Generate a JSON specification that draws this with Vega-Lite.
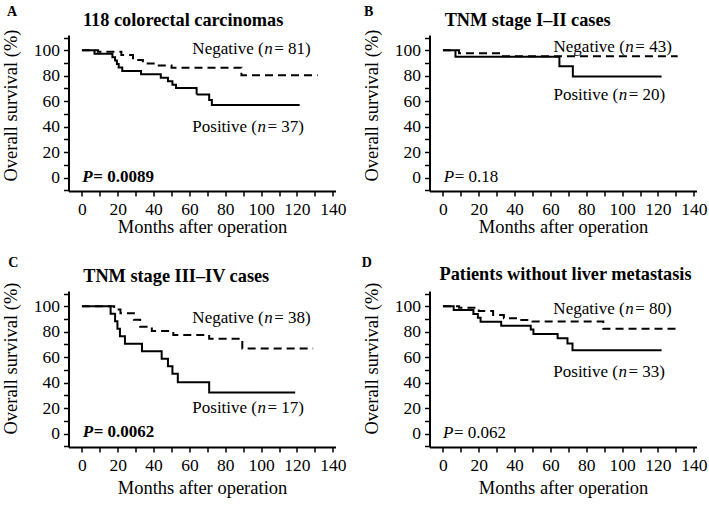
{
  "$schema": "https://vega.github.io/schema/vega-lite/v6.json",
  "background": "white",
  "padding": {"left": 1.5, "top": 5, "right": 5, "bottom": 5},
  "datasets": {
    "curves": [
      {"panel":"A","group":"Positive","month":0,"survival":100},
      {"panel":"A","group":"Positive","month":7,"survival":97.3},
      {"panel":"A","group":"Positive","month":17,"survival":94.6},
      {"panel":"A","group":"Positive","month":18.5,"survival":91.9},
      {"panel":"A","group":"Positive","month":19.5,"survival":89.2},
      {"panel":"A","group":"Positive","month":20.5,"survival":86.5},
      {"panel":"A","group":"Positive","month":22.5,"survival":83.8},
      {"panel":"A","group":"Positive","month":33,"survival":81.1},
      {"panel":"A","group":"Positive","month":44,"survival":78.4},
      {"panel":"A","group":"Positive","month":48,"survival":75.7},
      {"panel":"A","group":"Positive","month":50.5,"survival":73},
      {"panel":"A","group":"Positive","month":52.5,"survival":70.3},
      {"panel":"A","group":"Positive","month":64,"survival":65.2},
      {"panel":"A","group":"Positive","month":71,"survival":61},
      {"panel":"A","group":"Positive","month":72.5,"survival":57},
      {"panel":"A","group":"Positive","month":121.5,"survival":57},
      {"panel":"A","group":"Negative","month":0,"survival":100},
      {"panel":"A","group":"Negative","month":9,"survival":98.8},
      {"panel":"A","group":"Negative","month":22,"survival":96.2},
      {"panel":"A","group":"Negative","month":28.5,"survival":92.4},
      {"panel":"A","group":"Negative","month":34,"survival":89.6},
      {"panel":"A","group":"Negative","month":40,"survival":88.1},
      {"panel":"A","group":"Negative","month":50,"survival":86.3},
      {"panel":"A","group":"Negative","month":89,"survival":80.4},
      {"panel":"A","group":"Negative","month":131.5,"survival":80.4},
      {"panel":"B","group":"Positive","month":0,"survival":100},
      {"panel":"B","group":"Positive","month":7,"survival":95},
      {"panel":"B","group":"Positive","month":65,"survival":87.5},
      {"panel":"B","group":"Positive","month":72.5,"survival":79.5},
      {"panel":"B","group":"Positive","month":122,"survival":79.5},
      {"panel":"B","group":"Negative","month":0,"survival":100},
      {"panel":"B","group":"Negative","month":9,"survival":97.7},
      {"panel":"B","group":"Negative","month":32,"survival":95.3},
      {"panel":"B","group":"Negative","month":131,"survival":95.3},
      {"panel":"C","group":"Positive","month":0,"survival":100},
      {"panel":"C","group":"Positive","month":16,"survival":94.1},
      {"panel":"C","group":"Positive","month":18.5,"survival":88.2},
      {"panel":"C","group":"Positive","month":19.8,"survival":82.4},
      {"panel":"C","group":"Positive","month":21.2,"survival":76.5},
      {"panel":"C","group":"Positive","month":24,"survival":70.6},
      {"panel":"C","group":"Positive","month":33.5,"survival":64.7},
      {"panel":"C","group":"Positive","month":44.5,"survival":58.8},
      {"panel":"C","group":"Positive","month":48,"survival":52.9},
      {"panel":"C","group":"Positive","month":50.5,"survival":47.1},
      {"panel":"C","group":"Positive","month":53.5,"survival":40.3},
      {"panel":"C","group":"Positive","month":71,"survival":32.3},
      {"panel":"C","group":"Positive","month":119,"survival":32.3},
      {"panel":"C","group":"Negative","month":0,"survival":100},
      {"panel":"C","group":"Negative","month":18,"survival":97.4},
      {"panel":"C","group":"Negative","month":21.5,"survival":94.5},
      {"panel":"C","group":"Negative","month":29,"survival":89.5},
      {"panel":"C","group":"Negative","month":32.5,"survival":84},
      {"panel":"C","group":"Negative","month":39,"survival":80.5},
      {"panel":"C","group":"Negative","month":51,"survival":77.5},
      {"panel":"C","group":"Negative","month":71,"survival":74.6},
      {"panel":"C","group":"Negative","month":89.5,"survival":66.8},
      {"panel":"C","group":"Negative","month":129,"survival":66.8},
      {"panel":"D","group":"Positive","month":0,"survival":100},
      {"panel":"D","group":"Positive","month":6,"survival":97},
      {"panel":"D","group":"Positive","month":17,"survival":93.9},
      {"panel":"D","group":"Positive","month":19.5,"survival":90.9},
      {"panel":"D","group":"Positive","month":21,"survival":87.9},
      {"panel":"D","group":"Positive","month":32.5,"survival":84.8},
      {"panel":"D","group":"Positive","month":49,"survival":81.7},
      {"panel":"D","group":"Positive","month":50.5,"survival":78.2},
      {"panel":"D","group":"Positive","month":64,"survival":74.8},
      {"panel":"D","group":"Positive","month":69.5,"survival":70.8},
      {"panel":"D","group":"Positive","month":72.3,"survival":65.5},
      {"panel":"D","group":"Positive","month":122,"survival":65.5},
      {"panel":"D","group":"Negative","month":0,"survival":100},
      {"panel":"D","group":"Negative","month":9,"survival":98.8},
      {"panel":"D","group":"Negative","month":20,"survival":96.3},
      {"panel":"D","group":"Negative","month":28,"survival":93.1},
      {"panel":"D","group":"Negative","month":34,"survival":90.6},
      {"panel":"D","group":"Negative","month":42,"survival":89.3},
      {"panel":"D","group":"Negative","month":50,"survival":88},
      {"panel":"D","group":"Negative","month":89.5,"survival":82.4},
      {"panel":"D","group":"Negative","month":132.5,"survival":82.4}
    ],
    "ann": [
      {"panel":"A","month":101.4,"survival":97,"pre":"Negative (","it":"n","post":"\u00a0= 81)"},
      {"panel":"A","month":97.7,"survival":35.5,"pre":"Positive (","it":"n","post":"\u00a0= 37)"},
      {"panel":"B","month":101.5,"survival":98.8,"pre":"Negative (","it":"n","post":"\u00a0= 43)"},
      {"panel":"B","month":97.8,"survival":61,"pre":"Positive (","it":"n","post":"\u00a0= 20)"},
      {"panel":"C","month":101.4,"survival":86.8,"pre":"Negative (","it":"n","post":"\u00a0= 38)"},
      {"panel":"C","month":97.7,"survival":16.3,"pre":"Positive (","it":"n","post":"\u00a0= 17)"},
      {"panel":"D","month":101.4,"survival":94,"pre":"Negative (","it":"n","post":"\u00a0= 80)"},
      {"panel":"D","month":97.7,"survival":44.7,"pre":"Positive (","it":"n","post":"\u00a0= 33)"}
    ],
    "pv": [
      {"panel":"A","month":0.2,"survival":-3.1,"p":"P","val":"\u00a0= 0.0089"},
      {"panel":"B","month":0.4,"survival":-3.1,"p":"P","val":"\u00a0= 0.18"},
      {"panel":"C","month":0.4,"survival":-2.8,"p":"P","val":"\u00a0= 0.0062"},
      {"panel":"D","month":0,"survival":-3.4,"p":"P","val":"\u00a0= 0.062"}
    ],
    "heads": [
      {"panel":"A","month":-39,"survival":130,"letter":"A","tmonth":0.56,"tsurv":118.9,"title":"118 colorectal carcinomas"},
      {"panel":"B","month":-41.4,"survival":130,"letter":"B","tmonth":0.95,"tsurv":118.9,"title":"TNM stage I–II cases"},
      {"panel":"C","month":-38.3,"survival":134,"letter":"C","tmonth":0.7,"tsurv":118.8,"title":"TNM stage III–IV cases"},
      {"panel":"D","month":-42.5,"survival":134,"letter":"D","tmonth":-1.9,"tsurv":121,"title":"Patients without liver metastasis"}
    ]
  },
  "columns": 2,
  "spacing": {"row": 100, "column": 94},
  "bounds": "flush",
  "concat": [
    {
      "width": 267, "height": 156,
      "encoding": {
        "x": {"field":"month","type":"quantitative","scale":{"domain":[-7.5,141.5],"nice":false,"zero":false},
              "axis":{"title":"Months after operation","values":[0,10,20,30,40,50,60,70,80,90,100,110,120,130,140],"labelExpr":"datum.value % 20 === 0 ? datum.label : ''","titlePadding":0}},
        "y": {"field":"survival","type":"quantitative","scale":{"domain":[-10.5,112],"nice":false,"zero":false},
              "axis":{"title":"Overall survival (%)","values":[-10,0,10,20,30,40,50,60,70,80,90,100,110],"labelExpr":"(datum.value >= 0 && datum.value % 20 === 0) ? datum.label : ''","titleY":70,"titlePadding":12.5}}
      },
      "layer": [
        {"data":{"name":"curves"},"transform":[{"filter":"datum.panel === 'A'"}],
         "mark":{"type":"line","interpolate":"step-after","color":"black","strokeWidth":2},
         "encoding":{"detail":{"field":"group"},"strokeDash":{"field":"group","type":"nominal","scale":{"domain":["Negative","Positive"],"range":[[8,5],[1,0]]},"legend":null}}},
        {"data":{"name":"ann"},"transform":[{"filter":"datum.panel === 'A'"}],"mark":{"type":"text","align":"right","baseline":"alphabetic"},"encoding":{"text":{"field":"pre"}}},
        {"data":{"name":"ann"},"transform":[{"filter":"datum.panel === 'A'"}],"mark":{"type":"text","align":"left","baseline":"alphabetic","fontStyle":"italic","dx":0.5},"encoding":{"text":{"field":"it"}}},
        {"data":{"name":"ann"},"transform":[{"filter":"datum.panel === 'A'"}],"mark":{"type":"text","align":"left","baseline":"alphabetic","dx":10.5},"encoding":{"text":{"field":"post"}}},
        {"data":{"name":"pv"},"transform":[{"filter":"datum.panel === 'A'"}],"mark":{"type":"text","align":"left","baseline":"alphabetic","fontStyle":"italic","fontWeight":"bold"},"encoding":{"text":{"field":"p"}}},
        {"data":{"name":"pv"},"transform":[{"filter":"datum.panel === 'A'"}],"mark":{"type":"text","align":"left","baseline":"alphabetic","fontWeight":"bold","dx":11},"encoding":{"text":{"field":"val"}}},
        {"data":{"name":"heads"},"transform":[{"filter":"datum.panel === 'A'"}],"mark":{"type":"text","align":"center","baseline":"middle","fontWeight":"bold","fontSize":14},"encoding":{"text":{"field":"letter"}}},
        {"data":{"name":"heads"},"transform":[{"filter":"datum.panel === 'A'"}],"mark":{"type":"text","align":"left","baseline":"alphabetic","fontWeight":"bold","fontSize":18.3},"encoding":{"x":{"field":"tmonth","type":"quantitative"},"y":{"field":"tsurv","type":"quantitative"},"text":{"field":"title"}}}
      ]
    },
    {
      "width": 267, "height": 156,
      "encoding": {
        "x": {"field":"month","type":"quantitative","scale":{"domain":[-7.5,141.5],"nice":false,"zero":false},
              "axis":{"title":"Months after operation","values":[0,10,20,30,40,50,60,70,80,90,100,110,120,130,140],"labelExpr":"datum.value % 20 === 0 ? datum.label : ''","titlePadding":0}},
        "y": {"field":"survival","type":"quantitative","scale":{"domain":[-10.5,112],"nice":false,"zero":false},
              "axis":{"title":"Overall survival (%)","values":[-10,0,10,20,30,40,50,60,70,80,90,100,110],"labelExpr":"(datum.value >= 0 && datum.value % 20 === 0) ? datum.label : ''","titleY":70,"titlePadding":12.5}}
      },
      "layer": [
        {"data":{"name":"curves"},"transform":[{"filter":"datum.panel === 'B'"}],
         "mark":{"type":"line","interpolate":"step-after","color":"black","strokeWidth":2},
         "encoding":{"detail":{"field":"group"},"strokeDash":{"field":"group","type":"nominal","scale":{"domain":["Negative","Positive"],"range":[[8,5],[1,0]]},"legend":null}}},
        {"data":{"name":"ann"},"transform":[{"filter":"datum.panel === 'B'"}],"mark":{"type":"text","align":"right","baseline":"alphabetic"},"encoding":{"text":{"field":"pre"}}},
        {"data":{"name":"ann"},"transform":[{"filter":"datum.panel === 'B'"}],"mark":{"type":"text","align":"left","baseline":"alphabetic","fontStyle":"italic","dx":0.5},"encoding":{"text":{"field":"it"}}},
        {"data":{"name":"ann"},"transform":[{"filter":"datum.panel === 'B'"}],"mark":{"type":"text","align":"left","baseline":"alphabetic","dx":10.5},"encoding":{"text":{"field":"post"}}},
        {"data":{"name":"pv"},"transform":[{"filter":"datum.panel === 'B'"}],"mark":{"type":"text","align":"left","baseline":"alphabetic","fontStyle":"italic"},"encoding":{"text":{"field":"p"}}},
        {"data":{"name":"pv"},"transform":[{"filter":"datum.panel === 'B'"}],"mark":{"type":"text","align":"left","baseline":"alphabetic","dx":11},"encoding":{"text":{"field":"val"}}},
        {"data":{"name":"heads"},"transform":[{"filter":"datum.panel === 'B'"}],"mark":{"type":"text","align":"center","baseline":"middle","fontWeight":"bold","fontSize":14},"encoding":{"text":{"field":"letter"}}},
        {"data":{"name":"heads"},"transform":[{"filter":"datum.panel === 'B'"}],"mark":{"type":"text","align":"left","baseline":"alphabetic","fontWeight":"bold","fontSize":18.3},"encoding":{"x":{"field":"tmonth","type":"quantitative"},"y":{"field":"tsurv","type":"quantitative"},"text":{"field":"title"}}}
      ]
    },
    {
      "width": 267, "height": 156,
      "encoding": {
        "x": {"field":"month","type":"quantitative","scale":{"domain":[-7.5,141.5],"nice":false,"zero":false},
              "axis":{"title":"Months after operation","values":[0,10,20,30,40,50,60,70,80,90,100,110,120,130,140],"labelExpr":"datum.value % 20 === 0 ? datum.label : ''","titlePadding":5}},
        "y": {"field":"survival","type":"quantitative","scale":{"domain":[-10.5,112],"nice":false,"zero":false},
              "axis":{"title":"Overall survival (%)","values":[-10,0,10,20,30,40,50,60,70,80,90,100,110],"labelExpr":"(datum.value >= 0 && datum.value % 20 === 0) ? datum.label : ''","titleY":67,"titlePadding":12.5}}
      },
      "layer": [
        {"data":{"name":"curves"},"transform":[{"filter":"datum.panel === 'C'"}],
         "mark":{"type":"line","interpolate":"step-after","color":"black","strokeWidth":2},
         "encoding":{"detail":{"field":"group"},"strokeDash":{"field":"group","type":"nominal","scale":{"domain":["Negative","Positive"],"range":[[8,5],[1,0]]},"legend":null}}},
        {"data":{"name":"ann"},"transform":[{"filter":"datum.panel === 'C'"}],"mark":{"type":"text","align":"right","baseline":"alphabetic"},"encoding":{"text":{"field":"pre"}}},
        {"data":{"name":"ann"},"transform":[{"filter":"datum.panel === 'C'"}],"mark":{"type":"text","align":"left","baseline":"alphabetic","fontStyle":"italic","dx":0.5},"encoding":{"text":{"field":"it"}}},
        {"data":{"name":"ann"},"transform":[{"filter":"datum.panel === 'C'"}],"mark":{"type":"text","align":"left","baseline":"alphabetic","dx":10.5},"encoding":{"text":{"field":"post"}}},
        {"data":{"name":"pv"},"transform":[{"filter":"datum.panel === 'C'"}],"mark":{"type":"text","align":"left","baseline":"alphabetic","fontStyle":"italic","fontWeight":"bold"},"encoding":{"text":{"field":"p"}}},
        {"data":{"name":"pv"},"transform":[{"filter":"datum.panel === 'C'"}],"mark":{"type":"text","align":"left","baseline":"alphabetic","fontWeight":"bold","dx":11},"encoding":{"text":{"field":"val"}}},
        {"data":{"name":"heads"},"transform":[{"filter":"datum.panel === 'C'"}],"mark":{"type":"text","align":"center","baseline":"middle","fontWeight":"bold","fontSize":14},"encoding":{"text":{"field":"letter"}}},
        {"data":{"name":"heads"},"transform":[{"filter":"datum.panel === 'C'"}],"mark":{"type":"text","align":"left","baseline":"alphabetic","fontWeight":"bold","fontSize":18.3},"encoding":{"x":{"field":"tmonth","type":"quantitative"},"y":{"field":"tsurv","type":"quantitative"},"text":{"field":"title"}}}
      ]
    },
    {
      "width": 267, "height": 156,
      "encoding": {
        "x": {"field":"month","type":"quantitative","scale":{"domain":[-7.5,141.5],"nice":false,"zero":false},
              "axis":{"title":"Months after operation","values":[0,10,20,30,40,50,60,70,80,90,100,110,120,130,140],"labelExpr":"datum.value % 20 === 0 ? datum.label : ''","titlePadding":5}},
        "y": {"field":"survival","type":"quantitative","scale":{"domain":[-10.5,112],"nice":false,"zero":false},
              "axis":{"title":"Overall survival (%)","values":[-10,0,10,20,30,40,50,60,70,80,90,100,110],"labelExpr":"(datum.value >= 0 && datum.value % 20 === 0) ? datum.label : ''","titleY":67,"titlePadding":12.5}}
      },
      "layer": [
        {"data":{"name":"curves"},"transform":[{"filter":"datum.panel === 'D'"}],
         "mark":{"type":"line","interpolate":"step-after","color":"black","strokeWidth":2},
         "encoding":{"detail":{"field":"group"},"strokeDash":{"field":"group","type":"nominal","scale":{"domain":["Negative","Positive"],"range":[[8,5],[1,0]]},"legend":null}}},
        {"data":{"name":"ann"},"transform":[{"filter":"datum.panel === 'D'"}],"mark":{"type":"text","align":"right","baseline":"alphabetic"},"encoding":{"text":{"field":"pre"}}},
        {"data":{"name":"ann"},"transform":[{"filter":"datum.panel === 'D'"}],"mark":{"type":"text","align":"left","baseline":"alphabetic","fontStyle":"italic","dx":0.5},"encoding":{"text":{"field":"it"}}},
        {"data":{"name":"ann"},"transform":[{"filter":"datum.panel === 'D'"}],"mark":{"type":"text","align":"left","baseline":"alphabetic","dx":10.5},"encoding":{"text":{"field":"post"}}},
        {"data":{"name":"pv"},"transform":[{"filter":"datum.panel === 'D'"}],"mark":{"type":"text","align":"left","baseline":"alphabetic","fontStyle":"italic"},"encoding":{"text":{"field":"p"}}},
        {"data":{"name":"pv"},"transform":[{"filter":"datum.panel === 'D'"}],"mark":{"type":"text","align":"left","baseline":"alphabetic","dx":11},"encoding":{"text":{"field":"val"}}},
        {"data":{"name":"heads"},"transform":[{"filter":"datum.panel === 'D'"}],"mark":{"type":"text","align":"center","baseline":"middle","fontWeight":"bold","fontSize":14},"encoding":{"text":{"field":"letter"}}},
        {"data":{"name":"heads"},"transform":[{"filter":"datum.panel === 'D'"}],"mark":{"type":"text","align":"left","baseline":"alphabetic","fontWeight":"bold","fontSize":18.3},"encoding":{"x":{"field":"tmonth","type":"quantitative"},"y":{"field":"tsurv","type":"quantitative"},"text":{"field":"title"}}}
      ]
    }
  ],
  "config": {
    "font": "Liberation Serif",
    "view": {"stroke": null},
    "text": {"font": "Liberation Serif", "fontSize": 17, "color": "black"},
    "axis": {
      "domainColor": "black", "domainWidth": 2, "tickColor": "black", "tickWidth": 1.5, "tickSize": 5,
      "labelFont": "Liberation Serif", "labelFontSize": 17.5, "labelColor": "black", "labelPadding": 4,
      "titleFont": "Liberation Serif", "titleFontSize": 18.5, "titleFontWeight": "normal", "titleColor": "black",
      "grid": false, "labelFlush": false, "labelOverlap": false
    }
  }
}
